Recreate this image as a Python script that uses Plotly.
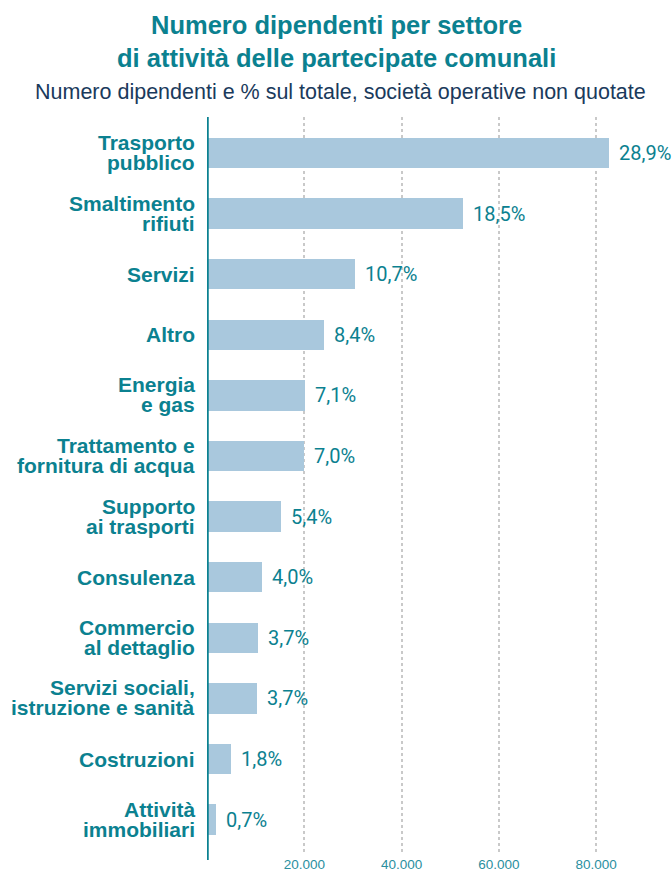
import plotly.graph_objects as go

# --- data -------------------------------------------------------------
sectors = [
    "Trasporto<br>pubblico",
    "Smaltimento<br>rifiuti",
    "Servizi",
    "Altro",
    "Energia<br>e gas",
    "Trattamento e<br>fornitura di acqua",
    "Supporto<br>ai trasporti",
    "Consulenza",
    "Commercio<br>al dettaglio",
    "Servizi sociali,<br>istruzione e sanità",
    "Costruzioni",
    "Attività<br>immobiliari",
]
employees = [82600, 52700, 30500, 24000, 20200, 20000, 15300, 11400, 10500, 10300, 4900, 1900]
share_labels = ["28,9%", "18,5%", "10,7%", "8,4%", "7,1%", "7,0%",
                "5,4%", "4,0%", "3,7%", "3,7%", "1,8%", "0,7%"]
x_ticks = [20000, 40000, 60000, 80000]
x_tick_labels = ["20.000", "40.000", "60.000", "80.000"]

title_lines = ["Numero dipendenti per settore",
               "di attività delle partecipate comunali"]
subtitle = "Numero dipendenti e % sul totale, società operative non quotate"

# --- styling ----------------------------------------------------------
W, H = 672, 872
M_L, M_R, M_T, M_B = 207, 4, 117, 18
TEAL = "#0b8190"
TEAL_LIGHT = "#2a8fa0"
NAVY = "#1a3a5c"
BAR = "#a9c8dd"
GRID = "#c9c9c9"
SANS = "Liberation Sans, Arial, sans-serif"
NUM = "Roboto, Liberation Sans, sans-serif"

plot_w = W - M_L - M_R
plot_h = H - M_T - M_B
BAR_PITCH = 60.6      # px between bar centres
FIRST_BAR = 153       # px row of the first bar centre


def py_to_paper(py):
    """Convert a pixel row (from the top of the page) to paper y."""
    return (H - M_B - py) / plot_h


def px_to_paper(px):
    """Convert a pixel column (from the left of the page) to paper x."""
    return (px - M_L) / plot_w


ypos = list(range(len(sectors)))
y_top = -(FIRST_BAR - M_T) / BAR_PITCH
y_bottom = (H - M_B - FIRST_BAR) / BAR_PITCH

fig = go.Figure(
    go.Bar(
        x=employees,
        y=ypos,
        orientation="h",
        width=0.5,
        marker=dict(color=BAR, line=dict(width=0)),
        hoverinfo="skip",
    )
)

annotations = []

# category labels, one annotation per text line for tight leading
for yi, name in zip(ypos, sectors):
    lines = name.split("<br>")
    offsets = [0] if len(lines) == 1 else [10.5, -9.5]
    for line, off in zip(lines, offsets):
        annotations.append(dict(
            x=0, xref="paper", xshift=-10.5, xanchor="right",
            y=yi, yref="y", yshift=off, yanchor="middle",
            text=f"<b>{line}</b>", showarrow=False,
            font=dict(family=SANS, size=21, color=TEAL),
        ))

# percentage share at the end of each bar
for yi, val, lab in zip(ypos, employees, share_labels):
    annotations.append(dict(
        x=val, xref="x", xshift=8, xanchor="left",
        y=yi, yref="y", yanchor="middle",
        text=lab, showarrow=False,
        font=dict(family=NUM, size=20, color=TEAL),
    ))

# title and subtitle
annotations.append(dict(
    x=px_to_paper(336), xref="paper", y=py_to_paper(25), yref="paper",
    xanchor="center", yanchor="middle", showarrow=False,
    text=f"<b>{title_lines[0]}</b>",
    font=dict(family=SANS, size=25.5, color=TEAL),
))
annotations.append(dict(
    x=px_to_paper(336), xref="paper", y=py_to_paper(58), yref="paper",
    xanchor="center", yanchor="middle", showarrow=False,
    text=f"<b>{title_lines[1]}</b>",
    font=dict(family=SANS, size=25.5, color=TEAL),
))
annotations.append(dict(
    x=px_to_paper(340), xref="paper", y=py_to_paper(92), yref="paper",
    xanchor="center", yanchor="middle", showarrow=False,
    text=subtitle,
    font=dict(family=SANS, size=21.5, color=NAVY),
))

fig.update_layout(
    width=W, height=H,
    margin=dict(l=M_L, r=M_R, t=M_T, b=M_B, autoexpand=False),
    paper_bgcolor="white", plot_bgcolor="white",
    showlegend=False,
    bargap=0,
    xaxis=dict(
        range=[0, 94750],
        tickvals=x_ticks, ticktext=x_tick_labels,
        showgrid=True, gridcolor=GRID, gridwidth=1.5, griddash="dot",
        zeroline=False, showline=False, ticks="",
        tickfont=dict(family=SANS, size=13.5, color=TEAL_LIGHT),
        fixedrange=True,
    ),
    yaxis=dict(
        range=[y_bottom, y_top],
        showticklabels=False, showgrid=False, zeroline=False,
        showline=False, ticks="", fixedrange=True,
    ),
    annotations=annotations,
    shapes=[dict(
        type="line", xref="x", yref="paper",
        x0=0, x1=0, y0=py_to_paper(860), y1=1,
        line=dict(color=TEAL, width=3.5),
        layer="above",
    )],
)

fig.write_html("out.html")
